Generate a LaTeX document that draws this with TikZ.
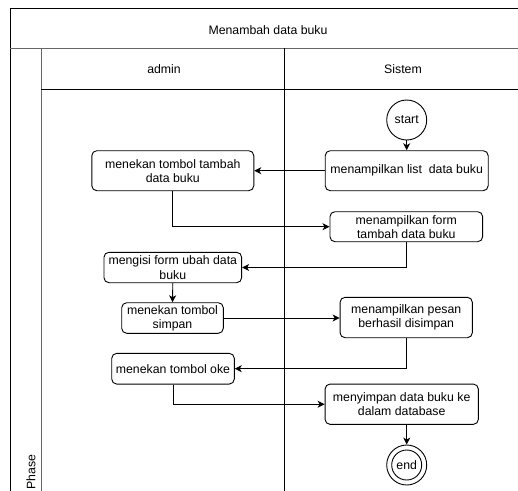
\documentclass[tikz,border=0pt]{standalone}
\usepackage{fontspec}
\setmainfont{Liberation Sans}
\usetikzlibrary{arrows.meta,calc}

\tikzset{
  lane/.style={line width=1pt, draw=black},
  softlane/.style={line width=1pt, draw=black!60},
  act/.style={draw=black, line width=0.9pt, rounded corners=5pt, fill=white,
    align=center, inner sep=1pt, font=\fontsize{12.3}{14.2}\selectfont},
  terminal/.style={draw=black, line width=0.9pt, circle, fill=white,
    minimum size=40pt, inner sep=0pt, font=\fontsize{12.3}{14.2}\selectfont},
  flow/.style={line width=0.9pt, -{Stealth[length=7pt,width=7pt,inset=2pt]}},
  label/.style={font=\fontsize{12.3}{14.2}\selectfont, inner sep=0pt},
}

\begin{document}
\begin{tikzpicture}[x=1pt, y=-1pt]
  \useasboundingbox (0,0) rectangle (518,490);
  \clip (0,0) rectangle (518,490);
  \fill[white] (0,0) rectangle (518,490);

  % pool frame and lanes
  \draw[lane] (10,498) -- (10,8) -- (530,8);
  \draw[softlane] (10,48) -- (530,48);
  \draw[softlane] (41,48) -- (41,498);
  \draw[lane] (41,89) -- (530,89);
  \draw[lane] (284.5,48) -- (284.5,498);
  \draw[lane] (521,8) -- (521,498);

  \node[label] (title) at (268,30) {Menambah data buku};
  \node[label] (admin) at (164,69) {admin};
  \node[label] (sistem) at (403,69) {Sistem};
  \node[label, rotate=90] (phase) at (31,472) {Phase};

  % activities
  \node[terminal] (start) at (406.7,120) {start};
  \node[act, minimum width=163pt, minimum height=40pt] (list) at (406.7,170.7) {menampilkan list\ \ data buku};
  \node[act, minimum width=162pt, minimum height=40pt] (tambah) at (172.8,170.7) {menekan tombol tambah\\data buku};
  \node[act, minimum width=152.7pt, minimum height=30pt] (form) at (406.3,226.7) {menampilkan form\\tambah data buku};
  \node[act, minimum width=137.7pt, minimum height=30.4pt] (isi) at (172.8,267.5) {mengisi form ubah data\\buku};
  \node[act, minimum width=101.6pt, minimum height=30.6pt] (simpan) at (172.5,318) {menekan tombol\\simpan};
  \node[act, minimum width=132.3pt, minimum height=40.4pt] (pesan) at (406.2,317.5) {menampilkan pesan\\berhasil disimpan};
  \node[act, minimum width=122.6pt, minimum height=30.7pt] (oke) at (173,368.7) {menekan tombol oke};
  \node[act, minimum width=153.3pt, minimum height=40.3pt] (db) at (401.7,404.2) {menyimpan data buku ke\\dalam database};
  \node[terminal] (end) at (406.7,465) {};
  \node[circle, draw=black, line width=0.9pt, minimum size=30pt, inner sep=0pt,
        font=\fontsize{12.3}{14.2}\selectfont] (endin) at (end.center) {end};

  % control flow
  \draw[flow] (start.south) -- (list.north -| start.south);
  \draw[flow] (list.west) -- (tambah.east);
  \draw[flow] (tambah.south) |- (form.west);
  \draw[flow] (form.south) |- (isi.east);
  \draw[flow] (isi.south) -- (simpan.north);
  \draw[flow] (simpan.east) -- (simpan.east -| pesan.west);
  \draw[flow] (pesan.south) |- (oke.east);
  \draw[flow] (oke.south) |- (db.west);
  \draw[flow] (db.south -| end.north) -- (end.north);
\end{tikzpicture}
\end{document}
